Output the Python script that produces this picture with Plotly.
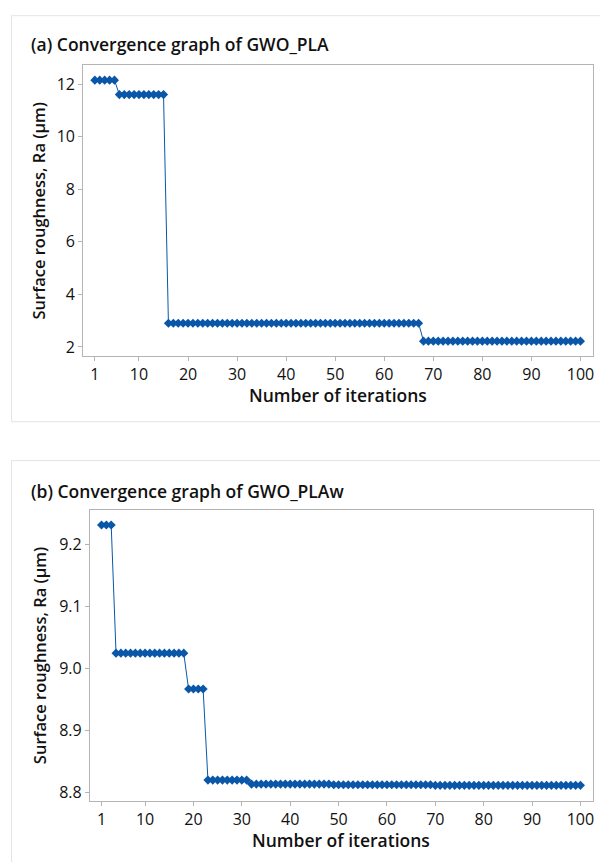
import plotly.graph_objects as go

# page body has an 8px default margin; figure is sized/shifted to compensate
OFF = 8
W, H = 608 - OFF, 862 - OFF

# ---------------- data ----------------
iterations = list(range(1, 101))

# (a) GWO_PLA best Ra per iteration
ra_pla = [12.15] * 5 + [11.6] * 10 + [2.9] * 52 + [2.22] * 33

# (b) GWO_PLAw best Ra per iteration
ra_plaw = ([9.232] * 3 + [9.025] * 15 + [8.967] * 4 + [8.820] * 9
           + [8.8135] * 17 + [8.8125] * 21 + [8.8115] * 31)

x_ticks = [1, 10, 20, 30, 40, 50, 60, 70, 80, 90, 100]
y_ticks_a = [2, 4, 6, 8, 10, 12]
y_ticks_b = [8.8, 8.9, 9.0, 9.1, 9.2]

titles = ["(a) Convergence graph of GWO_PLA", "(b) Convergence graph of GWO_PLAw"]
x_title = "Number of iterations"
y_title = "Surface roughness, Ra (μm)"

# ---------------- style ----------------
BLUE = "#0a56a8"
FONT = "Open Sans"
TXT = "#111111"
AXLINE = "#b4b4b4"

def px(x):
    return (x - OFF) / W

def py(y):
    return 1 - (y - OFF) / H

fig = go.Figure()

for vals, xa, ya in [(ra_pla, "x", "y"), (ra_plaw, "x2", "y2")]:
    fig.add_trace(go.Scatter(
        x=iterations, y=vals, xaxis=xa, yaxis=ya, mode="lines+markers",
        line=dict(color=BLUE, width=1),
        marker=dict(symbol="diamond", size=7, color=BLUE),
        showlegend=False, hoverinfo="x+y"))

axis_common = dict(
    showline=True, mirror=True, linecolor=AXLINE, linewidth=1,
    showgrid=False, zeroline=False, ticks="outside", ticklen=4,
    tickcolor=AXLINE, tickfont=dict(family=FONT, size=16, color=TXT),
)

# panel geometry (page pixels)
pa = dict(l=83.3, r=593.7, t=65.3, b=356.7)
pb = dict(l=90.0, r=593.7, t=510.7, b=802.7)

fig.update_layout(
    width=W, height=H, margin=dict(l=0, r=0, t=0, b=0),
    paper_bgcolor="white", plot_bgcolor="white",
    xaxis=dict(domain=[px(pa["l"]), px(pa["r"])], range=[-1.38, 102.5],
               tickvals=x_ticks, anchor="y", **axis_common),
    yaxis=dict(domain=[py(pa["b"]), py(pa["t"])], range=[1.66, 12.72],
               tickvals=y_ticks_a, anchor="x", **axis_common),
    xaxis2=dict(domain=[px(pb["l"]), px(pb["r"])], range=[-1.41, 102.54],
                tickvals=x_ticks, anchor="y2", **axis_common),
    yaxis2=dict(domain=[py(pb["b"]), py(pb["t"])], range=[8.7865, 9.2569],
                tickvals=y_ticks_b, tickformat=".1f", anchor="x2", **axis_common),
)

# card backgrounds
for (y0, y1) in [(15.7, 422.7), (461.7, 880)]:
    fig.add_shape(type="rect", xref="paper", yref="paper",
                  x0=px(11.5), x1=px(660), y0=py(y1), y1=py(y0),
                  line=dict(color="#e4e4e4", width=1), fillcolor="white",
                  layer="below")

ann = []
title_font = dict(family=FONT, size=17.5, color=TXT, weight=600)
xlabel_font = dict(family=FONT, size=17.5, color=TXT, weight=600)
ylabel_font = dict(family=FONT, size=16.5, color=TXT, weight=600)
for t, ty in zip(titles, [44.3, 491.7]):
    ann.append(dict(text=t, x=px(29), y=py(ty), xref="paper", yref="paper",
                    xanchor="left", yanchor="middle", showarrow=False, font=title_font))
for p, xy in [(pa, 396.0), (pb, 841.7)]:
    ann.append(dict(text=x_title, x=px((p["l"] + p["r"]) / 2), y=py(xy),
                    xref="paper", yref="paper", xanchor="center", yanchor="middle",
                    showarrow=False, font=xlabel_font))
    ann.append(dict(text=y_title, x=px(39), y=py((p["t"] + p["b"]) / 2),
                    xref="paper", yref="paper", xanchor="center", yanchor="middle",
                    textangle=-90, showarrow=False, font=ylabel_font))
fig.update_layout(annotations=ann)

fig.write_html("out.html")
